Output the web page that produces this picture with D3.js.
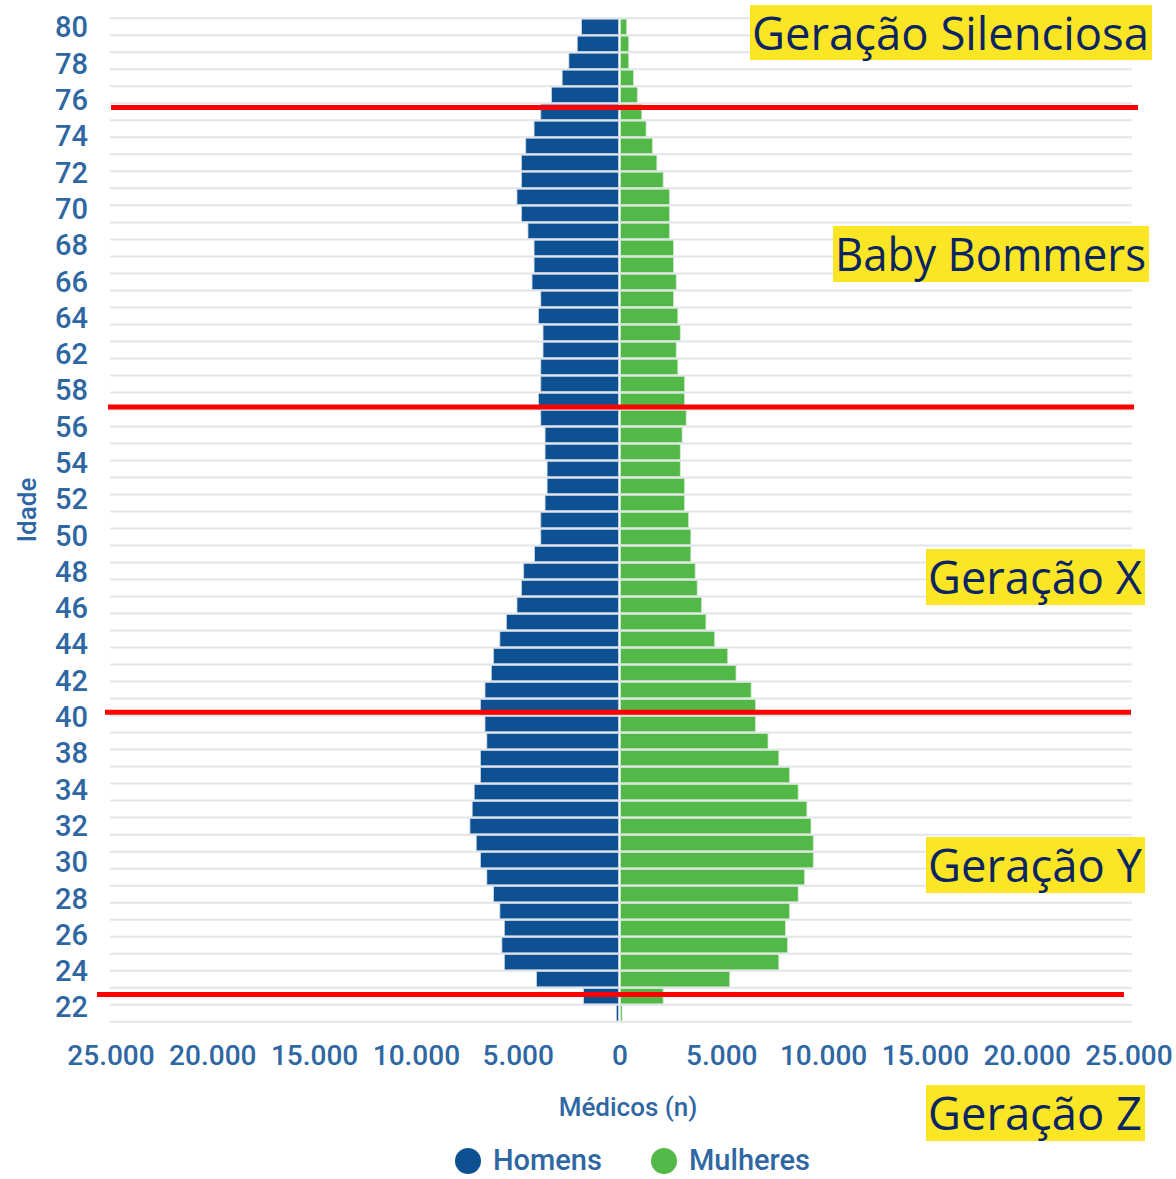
<!DOCTYPE html>
<html>
<head>
    <title>Médicos por idade e sexo</title>
    <script src="https://d3js.org/d3.v7.min.js"></script>
    <style>
        body { margin: 0; background: #ffffff; }
        svg { display: block; }
        .tick-label { font-family: Roboto, "DejaVu Sans Condensed", sans-serif; font-weight: 500; fill: #2f67a3; }
        .gen-label { font-family: "Open Sans", "DejaVu Sans", sans-serif; fill: #0b2462; }
    </style>
</head>
<body>
    <svg id="chart"></svg>

    <script>
        // Ages, top row first
        var ages = d3.range(80, 21, -1);

        // Médicos (n) per age, same order as ages
        var homens = [1890, 2100, 2510, 2840, 3360, 3890, 4220, 4630, 4840, 4840,
                      5060, 4840, 4520, 4220, 4220, 4320, 3890, 4000, 3780, 3780,
                      3890, 3890, 4000, 3890, 3680, 3680, 3580, 3580, 3680, 3890,
                      3890, 4200, 4730, 4840, 5060, 5580, 5900, 6210, 6320, 6630,
                      6850, 6630, 6540, 6850, 6850, 7160, 7260, 7370, 7060, 6850,
                      6540, 6210, 5900, 5680, 5800, 5680, 4100, 1790, 180];
        var mulheres = [330, 430, 430, 660, 850, 1070, 1280, 1590, 1810, 2120,
                        2430, 2430, 2430, 2630, 2630, 2760, 2630, 2840, 2960, 2760,
                        2840, 3170, 3170, 3250, 3050, 2960, 2960, 3170, 3170, 3370,
                        3480, 3480, 3690, 3790, 4010, 4220, 4650, 5290, 5700, 6440,
                        6650, 6650, 7270, 7800, 8330, 8750, 9180, 9380, 9490, 9490,
                        9060, 8750, 8330, 8130, 8230, 7800, 5390, 2120, 100];

        // Age labels as printed on the axis
        var ageLabels = ['80', '78', '76', '74', '72', '70', '68', '66', '64', '62',
                         '58', '56', '54', '52', '50', '48', '46', '44', '42', '40',
                         '38', '34', '32', '30', '28', '26', '24', '22'];

        var xTicks = [-25000, -20000, -15000, -10000, -5000, 0, 5000, 10000, 15000, 20000, 25000];
        var seriesNames = ['Homens', 'Mulheres'];

        // Generation annotations
        var generations = ['Geração Silenciosa', 'Baby Bommers', 'Geração X', 'Geração Y', 'Geração Z'];
        var generationBreaks = [75.25, 57.65, 39.7, 23.1];

        var width = 1176, height = 1179;
        var colors = { Homens: '#0d5193', Mulheres: '#52b848' };

        var svg = d3.select('#chart')
            .attr('width', width)
            .attr('height', height);

        var x = d3.scaleLinear()
            .domain([-25000, 25000])
            .range([111, 1129]);

        var y = d3.scaleBand()
            .domain(ages)
            .range([18.3, 1021.7])
            .paddingInner(0.1)
            .paddingOuter(0.05);

        // continuous age scale for the hand drawn red lines
        var yAge = d3.scaleLinear()
            .domain([80, 22])
            .range([18.3 + y.step() / 2, 1021.7 - y.step() / 2]);

        var yLabel = d3.scalePoint()
            .domain(ageLabels)
            .range([27, 1007]);

        var fmt = d3.formatLocale({ decimal: ',', thousands: '.', grouping: [3], currency: ['', ''] }).format(',d');

        // gridlines on row boundaries
        var bounds = ages.map(a => y(a) - y.step() * y.paddingInner() / 2);
        bounds.push(1021.7);
        svg.append('g')
            .selectAll('line')
            .data(bounds)
            .enter().append('line')
            .attr('x1', x(-25000) - 1)
            .attr('x2', x(25000) + 3)
            .attr('y1', d => d)
            .attr('y2', d => d)
            .attr('stroke', '#e4e5ea')
            .attr('stroke-width', 2);

        var rows = ages.map((a, i) => ({ age: a, homens: homens[i], mulheres: mulheres[i] }));

        // men to the left
        svg.append('g')
            .selectAll('rect')
            .data(rows)
            .enter().append('rect')
            .attr('x', d => x(-d.homens))
            .attr('width', d => x(0) - 1.5 - x(-d.homens))
            .attr('y', d => y(d.age))
            .attr('height', y.bandwidth())
            .attr('fill', colors.Homens)
            .attr('stroke', '#c9d6e6')
            .attr('stroke-width', 0.8);

        // women to the right
        svg.append('g')
            .selectAll('rect')
            .data(rows)
            .enter().append('rect')
            .attr('x', x(0) + 0.5)
            .attr('width', d => x(d.mulheres) - x(0) - 0.5)
            .attr('y', d => y(d.age))
            .attr('height', y.bandwidth())
            .attr('fill', colors.Mulheres)
            .attr('stroke', '#cfe8cc')
            .attr('stroke-width', 0.8);

        // y labels
        svg.append('g')
            .selectAll('text')
            .data(ageLabels)
            .enter().append('text')
            .attr('class', 'tick-label')
            .attr('x', 88)
            .attr('y', d => yLabel(d))
            .attr('dy', '0.36em')
            .attr('text-anchor', 'end')
            .style('font-size', '29px')
            .text(d => d);

        // x labels
        svg.append('g')
            .selectAll('text')
            .data(xTicks)
            .enter().append('text')
            .attr('class', 'tick-label')
            .attr('x', d => x(d))
            .attr('y', 1065)
            .attr('text-anchor', 'middle')
            .style('font-size', '28px')
            .text(d => fmt(Math.abs(d)));

        svg.append('text')
            .attr('class', 'tick-label')
            .attr('x', 628)
            .attr('y', 1116)
            .attr('text-anchor', 'middle')
            .style('font-size', '26px')
            .text('Médicos (n)');

        svg.append('text')
            .attr('class', 'tick-label')
            .attr('transform', 'translate(36,510) rotate(-90)')
            .attr('text-anchor', 'middle')
            .style('font-size', '26px')
            .text('Idade');

        // legend
        var legend = svg.append('g')
            .selectAll('g')
            .data(seriesNames)
            .enter().append('g')
            .attr('transform', (d, i) => 'translate(' + (468 + i * 196) + ',1161)');
        legend.append('circle')
            .attr('r', 13)
            .attr('fill', d => colors[d]);
        legend.append('text')
            .attr('class', 'tick-label')
            .attr('x', 25)
            .attr('y', 9)
            .style('font-size', '29px')
            .text(d => d);

        // red generation breaks
        var lineSpan = [[111, 1138], [108, 1134], [105, 1131], [97, 1124]];
        svg.append('g')
            .selectAll('line')
            .data(generationBreaks)
            .enter().append('line')
            .attr('x1', (d, i) => lineSpan[i][0])
            .attr('x2', (d, i) => lineSpan[i][1])
            .attr('y1', d => yAge(d))
            .attr('y2', d => yAge(d))
            .attr('stroke', '#ff0000')
            .attr('stroke-width', 5);

        // yellow generation boxes: [x0, y0, x1, y1]
        var boxes = [[750, 5, 1152, 60], [833, 226, 1149, 282], [926, 549, 1145, 605],
                     [926, 837, 1145, 893], [926, 1085, 1145, 1141]];
        var gen = svg.append('g')
            .selectAll('g')
            .data(generations)
            .enter().append('g');
        gen.append('rect')
            .attr('x', (d, i) => boxes[i][0])
            .attr('y', (d, i) => boxes[i][1])
            .attr('width', (d, i) => boxes[i][2] - boxes[i][0])
            .attr('height', (d, i) => boxes[i][3] - boxes[i][1])
            .attr('fill', '#fbe626');
        gen.append('text')
            .attr('class', 'gen-label')
            .attr('x', (d, i) => boxes[i][0] + 2)
            .attr('y', (d, i) => boxes[i][1] + 45)
            .attr('textLength', (d, i) => boxes[i][2] - boxes[i][0] - 5)
            .attr('lengthAdjust', 'spacingAndGlyphs')
            .style('font-size', '45px')
            .text(d => d);
    </script>
</body>
</html>
